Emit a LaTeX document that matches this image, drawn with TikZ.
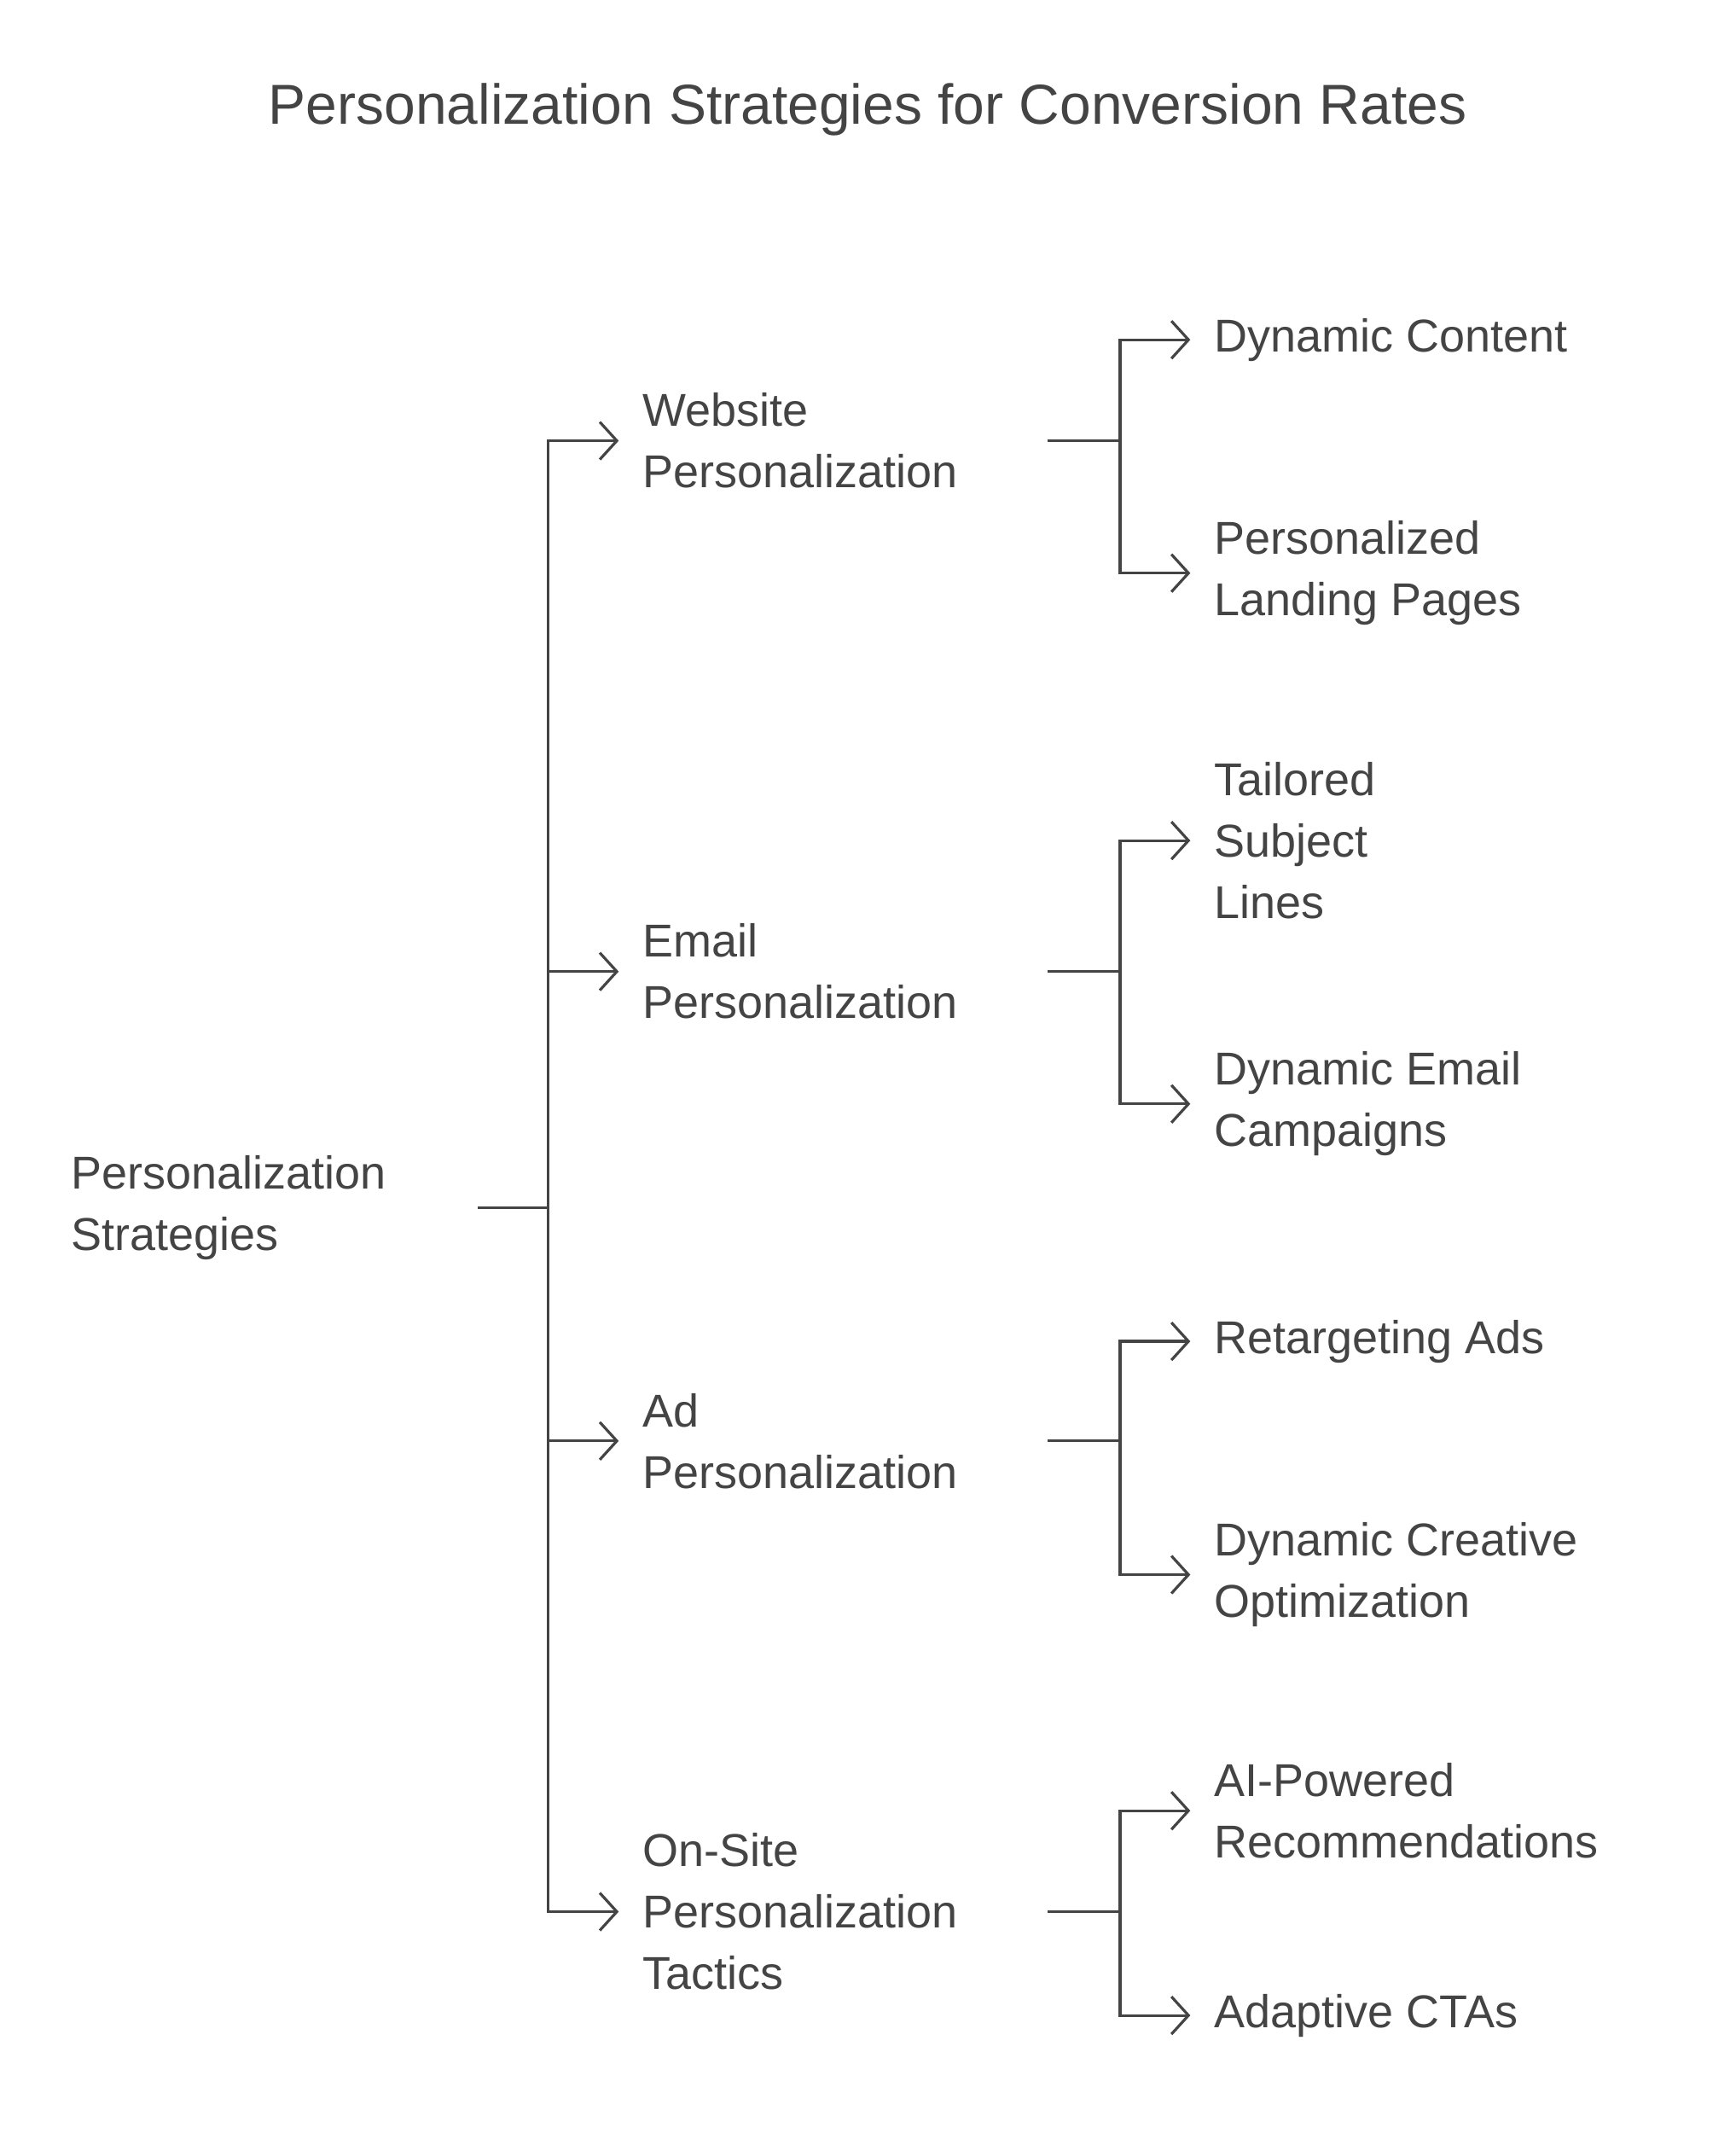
\documentclass[tikz,border=0pt]{standalone}
\usepackage{fontspec}
\setmainfont{Liberation Sans}
\usetikzlibrary{arrows.meta}
\definecolor{ink}{HTML}{444444}
\tikzset{
  label/.style={anchor=west, align=left, inner sep=0pt, text=ink,
    font=\fontsize{27}{36}\selectfont},
  link/.style={draw=ink, line width=1.6pt},
  arrowlink/.style={link, -{Straight Barb[length=10pt,width=22pt,line width=1.6pt]}}
}
\begin{document}
\begin{tikzpicture}[x=0.8pt, y=-0.8pt]
\useasboundingbox (0,0) rectangle (1272,1572);

\node[text=ink, font=\fontsize{33}{40}\selectfont] (title) at (636,80) {Personalization Strategies for Conversion Rates};

% root
\node[label] (root) at (52,885) {Personalization\\Strategies};
\coordinate (rootout) at (350,885);
\coordinate (trunk) at (402,885);
\draw[link] (rootout) -- (trunk);

% level 1
\node[label] (web) at (471,323) {Website\\Personalization};
\node[label] (email) at (471,712) {Email\\Personalization};
\node[label] (ad) at (471,1056) {Ad\\Personalization};
\node[label] (onsite) at (471,1401) {On-Site\\Personalization\\Tactics};

\foreach \n in {web,email,ad,onsite}
  \draw[arrowlink] (trunk) |- ([xshift=-14pt]\n.west);

% level 2
\node[label] (dyncontent) at (890,249) {Dynamic Content};
\node[label] (landing) at (890,420) {Personalized\\Landing Pages};
\node[label] (subject) at (890,616) {Tailored\\Subject\\Lines};
\node[label] (campaigns) at (890,809) {Dynamic Email\\Campaigns};
\node[label] (retarget) at (890,983) {Retargeting Ads};
\node[label] (creative) at (890,1154) {Dynamic Creative\\Optimization};
\node[label] (aipowered) at (890,1327) {AI-Powered\\Recommendations};
\node[label] (ctas) at (890,1477) {Adaptive CTAs};

\foreach \p/\a/\b in {web/dyncontent/landing, email/subject/campaigns,
                      ad/retarget/creative, onsite/aipowered/ctas} {
  \coordinate (\p out) at (768,0 |- \p.west);
  \coordinate (\p fork) at (821,0 |- \p.west);
  \draw[link] (\p out) -- (\p fork);
  \draw[arrowlink] (\p fork) |- ([xshift=-14pt]\a.west);
  \draw[arrowlink] (\p fork) |- ([xshift=-14pt]\b.west);
}
\end{tikzpicture}
\end{document}
